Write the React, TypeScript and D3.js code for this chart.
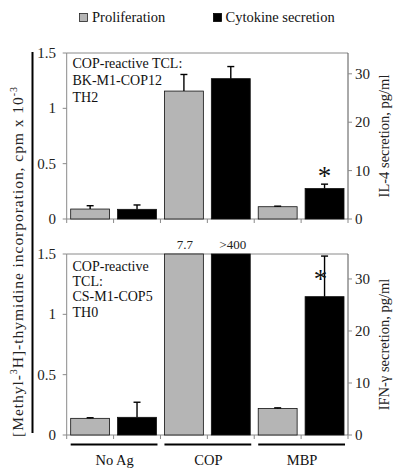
import React from "react";
import * as d3 from "d3";

const groups = ["No Ag", "COP", "MBP"];
const series = ["Proliferation", "Cytokine secretion"];

// top panel (BK-M1-COP12, TH2)
const topProlif = [0.09, 1.156, 0.111];
const topProlifErr = [0.03, 0.15, 0.005];
const topIL4 = [2.0, 29.0, 6.3];
const topIL4Err = [0.9, 2.5, 0.9];

// bottom panel (CS-M1-COP5, TH0) -- COP values are off-scale
const botProlif = [0.138, 7.7, 0.22];
const botProlifErr = [0.005, 0, 0.005];
const botIFN = [3.4, 400, 26.6];
const botIFNErr = [2.9, 0, 7.8];
const offScaleLabels = ["7.7", ">400"];

const leftTicks = [0, 0.5, 1, 1.5];
const leftTickLabels = ["0", "0.5", "1", "1.5"];
const rightTicks = [0, 10, 20, 30];

const FONT = "'Liberation Serif', 'Times New Roman', serif";
const GRAY = "#b5b5b5";
const FRAME = "#8a8a8a";

const X0 = 66.7;
const X1 = 348;

const keys = groups.flatMap((g) => series.map((s) => `${g}|${s}`));
const x = d3.scaleBand<string>().domain(keys).range([X0, X1]).paddingInner(0.17).paddingOuter(0.085);

type PanelProps = {
  top: number;
  bottom: number;
  rMax: number;
  prolif: number[];
  prolifErr: number[];
  cyto: number[];
  cytoErr: number[];
  lines: string[];
  lineStart: number;
  lineGap: number;
  rightTitle: string;
  starX: number;
  starY: number; // in right-axis units
  offScale?: boolean;
};

function Panel(p: PanelProps) {
  const yL = d3.scaleLinear().domain([0, 1.5]).range([p.bottom, p.top]);
  const yR = d3.scaleLinear().domain([0, p.rMax]).range([p.bottom, p.top]);
  const bw = x.bandwidth();
  const step = x.step();
  const boundaries = d3.range(keys.length + 1).map((i) => X0 + i * step);
  const bars: any[] = [];
  groups.forEach((g, i) => {
    const items = [
      { k: `${g}|${series[0]}`, v: p.prolif[i], e: p.prolifErr[i], y: yL, fill: GRAY, max: 1.5 },
      { k: `${g}|${series[1]}`, v: p.cyto[i], e: p.cytoErr[i], y: yR, fill: "#000", max: p.rMax },
    ];
    items.forEach((it, j) => {
      const clipped = it.v > it.max;
      const yv = it.y(Math.min(it.v, it.max));
      const bx = x(it.k)!;
      bars.push(
        <g key={it.k}>
          <rect x={bx} y={yv} width={bw} height={p.bottom - yv} fill={it.fill} stroke="#111" strokeWidth={0.8} />
          {!clipped && it.e > 0 && (
            <g stroke="#000" strokeWidth={1.4}>
              <line x1={bx + bw / 2} x2={bx + bw / 2} y1={yv} y2={it.y(it.v + it.e)} />
              <line x1={bx + bw / 2 - 3.5} x2={bx + bw / 2 + 3.5} y1={it.y(it.v + it.e)} y2={it.y(it.v + it.e)} />
            </g>
          )}
          {clipped && (
            <text x={bx + bw / 2 + (j === 0 ? 1 : 2)} y={p.top - 5} textAnchor="middle" fontSize={13} fontFamily={FONT} fill="#222">
              {offScaleLabels[j]}
            </text>
          )}
        </g>
      );
    });
  });
  return (
    <g>
      {/* frame */}
      <line x1={X0} x2={X1} y1={p.top} y2={p.top} stroke={FRAME} strokeWidth={1} />
      <line x1={X0} x2={X0} y1={p.top} y2={p.bottom} stroke={FRAME} strokeWidth={1} />
      <line x1={X0} x2={X1} y1={p.bottom} y2={p.bottom} stroke={FRAME} strokeWidth={1} />
      <line x1={X1} x2={X1} y1={p.top} y2={p.bottom} stroke="#555" strokeWidth={1} />
      {boundaries.map((b, i) => (
        <line key={i} x1={b} x2={b} y1={p.bottom} y2={p.bottom + 4} stroke={FRAME} strokeWidth={1} />
      ))}
      {leftTicks.map((t, i) => (
        <g key={"l" + i}>
          <line x1={X0 - 4} x2={X0} y1={yL(t)} y2={yL(t)} stroke={FRAME} />
          <text x={56} y={yL(t) + 5} textAnchor="end" fontSize={15} fontFamily={FONT} fill="#222">
            {leftTickLabels[i]}
          </text>
        </g>
      ))}
      {rightTicks.map((t, i) => (
        <g key={"r" + i}>
          <line x1={X1} x2={X1 + 4} y1={yR(t)} y2={yR(t)} stroke={FRAME} />
          <text x={355} y={yR(t) + 5} textAnchor="start" fontSize={15} fontFamily={FONT} fill="#222">
            {String(t)}
          </text>
        </g>
      ))}
      {bars}
      {p.lines.map((l, i) => (
        <text key={"t" + i} x={72.5} y={p.lineStart + i * p.lineGap} fontSize={14} fontFamily={FONT} fill="#111">
          {l}
        </text>
      ))}
      <text x={p.starX} y={yR(p.starY)} textAnchor="middle" fontSize={27} fontFamily={FONT} fill="#111">
        *
      </text>
      <text transform={`translate(389,${(p.top + p.bottom) / 2}) rotate(-90)`} textAnchor="middle" fontSize={14.5} fontFamily={FONT} fill="#222">
        {p.rightTitle}
      </text>
    </g>
  );
}

export default function App() {
  const step = x.step();
  return (
    <svg width={400} height={474} style={{ position: "absolute", left: 0, top: 0, background: "#fff" }}>
      <rect width={400} height={474} fill="#fff" />
      {/* legend */}
      <rect x={79.5} y={13.5} width={8} height={8} fill={GRAY} stroke="#222" strokeWidth={0.8} />
      <text x={92} y={22} fontSize={14.5} fontFamily={FONT} fill="#111">
        {series[0]}
      </text>
      <rect x={213.5} y={13.5} width={8} height={8} fill="#000" stroke="#000" strokeWidth={0.8} />
      <text x={225.5} y={22} fontSize={14.5} fontFamily={FONT} fill="#111">
        {series[1]}
      </text>

      <Panel
        top={53}
        bottom={219}
        rMax={34.3}
        prolif={topProlif}
        prolifErr={topProlifErr}
        cyto={topIL4}
        cytoErr={topIL4Err}
        lines={["COP-reactive TCL:", "BK-M1-COP12", "TH2"]}
        lineStart={68}
        lineGap={17}
        rightTitle="IL-4 secretion, pg/ml"
        starX={x("MBP|Cytokine secretion")! + x.bandwidth() / 2}
        starY={7.2 - 0.2}
      />
      <Panel
        top={254}
        bottom={435}
        rMax={34.8}
        prolif={botProlif}
        prolifErr={botProlifErr}
        cyto={botIFN}
        cytoErr={botIFNErr}
        lines={["COP-reactive", "TCL:", "CS-M1-COP5", "TH0"]}
        lineStart={271}
        lineGap={15.2}
        rightTitle="IFN-γ secretion, pg/ml"
        starX={x("MBP|Cytokine secretion")! + x.bandwidth() / 2 - 4}
        starY={28.3}
        offScale
      />

      {/* group underlines and labels */}
      {groups.map((g, i) => {
        const a = x(`${g}|${series[0]}`)!;
        const b = x(`${g}|${series[1]}`)! + x.bandwidth();
        return (
          <g key={g}>
            <line x1={a} x2={b + 1} y1={444.5} y2={444.5} stroke="#000" strokeWidth={2} />
            <text x={(a + b) / 2 + 1} y={465} textAnchor="middle" fontSize={14.5} fontFamily={FONT} fill="#111">
              {g}
            </text>
          </g>
        );
      })}

      {/* left vertical bar and shared title */}
      <line x1={32.5} x2={32.5} y1={52} y2={433} stroke="#000" strokeWidth={2} />
      <text
        transform="translate(23,262) rotate(-90)"
        textAnchor="middle"
        fontSize={15.5}
        fontFamily={FONT}
        fill="#222"
        textLength={350}
        lengthAdjust="spacing"
      >
        [Methyl-
        <tspan fontSize={10} dy={-6}>3</tspan>
        <tspan dy={6}>H]-thymidine incorporation, cpm x 10</tspan>
        <tspan fontSize={10} dy={-6}>-3</tspan>
      </text>
    </svg>
  );
}
